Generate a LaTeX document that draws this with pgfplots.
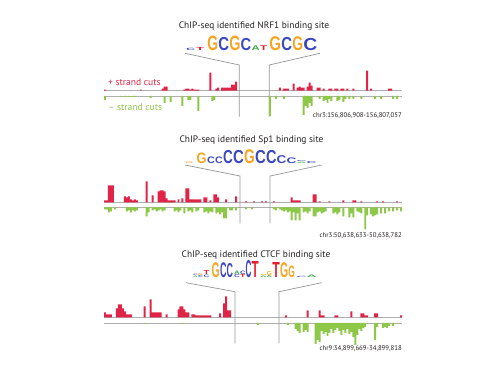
\documentclass[border=0pt]{standalone}
\usepackage{pgfplots}
\pgfplotsset{compat=1.18}
\usepackage{fontspec}
\usepackage{graphicx}
\setmainfont{PT Sans}
\newfontfamily\logofont{Liberation Sans}
\definecolor{cRed}{RGB}{224,36,72}
\definecolor{cGreen}{RGB}{142,200,72}
\definecolor{cLine}{RGB}{175,175,175}
\definecolor{cVert}{RGB}{150,150,150}
\definecolor{cText}{RGB}{35,31,32}
\definecolor{lG}{RGB}{246,166,35}
\definecolor{lC}{RGB}{60,72,190}
\definecolor{lT}{RGB}{226,32,44}
\definecolor{lA}{RGB}{60,170,70}
\newcommand{\LL}[6]{\node[anchor=south west,inner sep=0pt,outer sep=0pt] at (#1,#2) {\resizebox*{#3pt}{#4pt}{\logofont\bfseries\color{#5}#6}};}
\pgfplotsset{cuts/.style={scale only axis, width=298pt, height=25pt, xmin=-0.5, xmax=149.5,
  axis lines=none, ybar, bar width=1, ticks=none, clip=false}}
\begin{document}
\begin{tikzpicture}
\path[use as bounding box] (0pt,0pt) rectangle (499pt,-374pt);
\begin{scope}[x=1pt,y=-1pt]
% ---------- baselines and guide lines
\foreach \u/\l in {90.7/96, 202.3/207.5, 317.5/323}{
  \draw[cLine, line width=0.7pt] (104,\u) -- (402,\u);
  \draw[cLine, line width=0.7pt] (104,\l) -- (402,\l);
}
\draw[cVert, line width=0.7pt] (185,53.3) -- (239.3,65) -- (239.3,116.7);
\draw[cVert, line width=0.7pt] (320,53.3) -- (269.3,65) -- (269.3,116.7);
\draw[cVert, line width=0.7pt] (185,165) -- (240,176) -- (240,223.3);
\draw[cVert, line width=0.7pt] (321.7,165) -- (270,176) -- (270,223.3);
\draw[cVert, line width=0.7pt] (186,282.7) -- (235,291.7) -- (235,343.3);
\draw[cVert, line width=0.7pt] (321.7,282.7) -- (279,291.7) -- (279,343.3);
% ---------- titles
\node[cText, font=\fontsize{9.4}{10}\selectfont] at (254,26) {ChIP-seq identified NRF1 binding site};
\node[cText, font=\fontsize{9.4}{10}\selectfont] at (251.5,140) {ChIP-seq identified Sp1 binding site};
\node[cText, font=\fontsize{9.4}{10}\selectfont] at (256,255) {ChIP-seq identified CTCF binding site};
\node[cRed, anchor=west, inner sep=0pt, font=\fontsize{9.6}{10}\selectfont] at (108,82) {+ strand cuts};
\node[cGreen, anchor=west, inner sep=0pt, font=\fontsize{9.6}{10}\selectfont] at (108,107) {– strand cuts};
\node[cText, anchor=east, inner sep=0pt, font=\fontsize{6.8}{7}\selectfont] at (402,116) {chr3:156,806,908-156,807,057};
\node[cText, anchor=east, inner sep=0pt, font=\fontsize{6.8}{7}\selectfont] at (402,236) {chr3:50,638,633-50,638,782};
\node[cText, anchor=east, inner sep=0pt, font=\fontsize{6.8}{7}\selectfont] at (402,349) {chr9:34,899,669-34,899,818};
% ---------- logo NRF1
\LL{186}{50.7}{9}{2.3}{lC}{C}
\LL{196}{50.7}{8}{3}{lT}{T}
\LL{207.3}{50.7}{10.8}{14.7}{lG}{G}
\LL{218.3}{50.7}{10.8}{13.3}{lC}{C}
\LL{229.3}{50.7}{11.2}{14.7}{lG}{G}
\LL{240.7}{50.7}{10.6}{12.3}{lC}{C}
\LL{251.7}{50.7}{8.1}{4.7}{lA}{A}
\LL{260}{50.7}{7.1}{4.7}{lT}{T}
\LL{269.3}{50.7}{11.8}{14}{lG}{G}
\LL{281.3}{50.7}{10.8}{13.3}{lC}{C}
\LL{292.3}{50.7}{10.8}{14}{lG}{G}
\LL{303.3}{50.7}{14}{12.3}{lC}{C}
% ---------- logo Sp1
\LL{185}{163.7}{8}{1.5}{lG}{G}
\LL{196.7}{163.7}{10}{10.7}{lG}{G}
\LL{207}{163.7}{7.8}{6.7}{lC}{C}
\LL{215}{163.7}{7.6}{6.7}{lC}{C}
\LL{223}{163.7}{9.8}{13.3}{lC}{C}
\LL{233}{163.7}{10.8}{13.3}{lC}{C}
\LL{244}{163.7}{10.8}{14}{lG}{G}
\LL{255}{163.7}{10.8}{13.3}{lC}{C}
\LL{266}{163.7}{10.5}{13.3}{lC}{C}
\LL{276.7}{163.7}{9.8}{8}{lC}{C}
\LL{286.7}{163.7}{9.8}{5.7}{lC}{C}
\LL{296.7}{163.7}{9.8}{1.3}{lA}{A}
\LL{296.7}{161.9}{9.8}{1}{lC}{C}
\LL{306.7}{163.7}{10}{2}{lC}{C}
% ---------- logo CTCF
\LL{193}{278}{4.8}{1.5}{lA}{A}
\LL{193}{276}{4.8}{1.5}{lC}{C}
\LL{198}{278}{4.8}{2}{lC}{C}
\LL{198}{275.5}{4.8}{2}{lG}{G}
\LL{203.5}{278}{5.8}{2.5}{lC}{C}
\LL{203.5}{275}{5.8}{4}{lT}{T}
\LL{211.7}{278}{8.1}{15}{lG}{G}
\LL{220}{278}{6.5}{15}{lC}{C}
\LL{226.7}{278}{6.4}{14.3}{lC}{C}
\LL{234}{278}{5.8}{3}{lC}{C}
\LL{234}{274.5}{5.8}{3.5}{lA}{A}
\LL{240}{278}{5.4}{3}{lT}{T}
\LL{240}{274.5}{5.4}{3.5}{lC}{C}
\LL{245.7}{278}{5.8}{17.3}{lC}{C}
\LL{251.7}{278}{7.1}{16}{lT}{T}
\LL{260}{278}{6.5}{1.5}{lA}{A}
\LL{260}{276}{6.5}{1}{lG}{G}
\LL{266.7}{278}{5.4}{2}{lA}{A}
\LL{266.7}{275.5}{5.4}{4}{lG}{G}
\LL{272.3}{278}{7.5}{15}{lT}{T}
\LL{280}{278}{8.1}{15}{lG}{G}
\LL{288.3}{278}{6.5}{11.7}{lG}{G}
\LL{296.7}{278}{9.8}{1.2}{lC}{C}
\LL{306.7}{278}{10}{2.5}{lA}{A}
\end{scope}
% ================= Panel 1
\begin{axis}[cuts, at={(104pt,-90.7pt)}, anchor=south west, ymin=0, ymax=25]
\addplot[fill=cRed, draw=none] coordinates {
(0,1)(18,1)(29,2)(30,4)(31,4)(40,1)(41,2)(42,2)(43,1)(44,2)(45,1)(46,1)(47,1)(53,18)(56,2)(57,3)
(59,3)(60,3)(61,3)(62,3)(63,3)(64,6)(65,6)(66,9)
(88,3)(90,2)(91,2)(92,2)(95,7)(97,3)(98,4)(99,3)(100,3)(102,4)(103,8)(104,5)(107,3)(108,3)(110,2)
(113,2)(114,2)(116,2)(117,2)(119,2)(120,2)(122,2)(125,2)(132,20)(134,2)(143,2)(144,2)};
\end{axis}
\begin{axis}[cuts, at={(104pt,-96pt)}, anchor=north west, ymin=-25, ymax=0, y filter/.expression={-y}]
\addplot[fill=cGreen, draw=none] coordinates {
(0,4)(8,1)(10,1)(12,1)(14,1)(15,1)(23,2)(30,7)(33,6)(39,10)(42,4)(43,4)(47,15)(54,5)(55,4)
(83,20)(86,3)(90,3)(100,19)(101,10)(102,12)(103,7)(104,10)(108,3)(110,5)(111,4)(112,7)(113,3)(114,5)
(117,5)(118,4)(120,6)(121,3)(123,3)(125,3)(129,3)(136,3)(139,3)(145,3)(147,3)};
\end{axis}
% ================= Panel 2
\begin{axis}[cuts, at={(104pt,-202.3pt)}, anchor=south west, ymin=0, ymax=25]
\addplot[fill=cRed, draw=none] coordinates {
(0,2)(1,2)(2,17)(3,17)(4,17)(10,6)(11,5)(12,6)(13,3)(14,2)(15,3)(16,2)(21,21)(24,7)(27,11)(28,12)
(29,12)(30,11)(31,4)(32,2)(33,2)(34,2)(35,2)(37,3)(39,4)(41,14)(42,14)(43,3)(44,3)(45,3)(46,3)(47,3)
(48,3)(50,5)(51,5)(53,2)(55,8)(56,8)(57,5)(61,3)(66,6)(71,1)(75,1)(79,1)(81,1)(85,1)(94,5)(95,2)
(96,2)(97,2)(98,2)(105,8)(106,8)(108,1)(113,1)(120,2)(125,2)(126,2)(129,1)(137,1)(140,1)(147,1)};
\end{axis}
\begin{axis}[cuts, at={(104pt,-207.5pt)}, anchor=north west, ymin=-25, ymax=0, y filter/.expression={-y}]
\addplot[fill=cGreen, draw=none] coordinates {
(0,2)(1,2)(2,5)(3,4)(5,2)(11,4)(12,3)(13,5)(14,3)(15,4)(16,3)(21,9)(22,5)(24,3)(25,2)(26,4)(27,3)
(28,2)(29,4)(30,3)(35,4)(36,3)(37,5)(38,3)(40,6)(42,4)(43,3)(44,5)(46,4)(47,3)(50,5)(51,4)(52,6)
(53,4)(54,5)(56,6)(57,5)(58,7)(59,5)(60,11)(61,11)(63,3)(64,3)(66,3)(71,2)(74,2)(85,2)(86,3)(88,2)
(89,3)(90,4)(91,3)(92,5)(93,4)(94,13)(95,5)(96,13)(97,6)(98,13)(100,5)(101,4)(102,6)(103,4)(105,9)
(106,9)(107,5)(108,4)(109,6)(110,5)(111,4)(115,6)(116,5)(117,7)(118,5)(120,9)(123,10)(124,6)(125,10)
(127,4)(128,5)(129,6)(131,22)(132,8)(134,7)(135,9)(136,8)(137,7)(139,6)(141,6)(143,4)(145,4)(147,3)(149,4)};
\end{axis}
% ================= Panel 3
\begin{axis}[cuts, at={(104pt,-317.5pt)}, anchor=south west, ymin=0, ymax=25]
\addplot[fill=cRed, draw=none] coordinates {
(0,5)(1,3)(2,3)(3,3)(6,9)(7,13)(8,13)(9,9)(10,6)(11,3)(12,3)(13,3)(20,11)(23,18)(24,5)(25,5)
(26,5)(27,5)(28,5)(31,3)(37,8)(38,11)(39,11)(40,8)(41,5)(42,5)(44,3)(45,3)(46,2)(47,2)(48,2)
(49,2)(50,2)(51,2)(52,2)(53,2)(58,4)(60,14)(61,21)(62,7)(63,7)
(91,2)(102,7)(108,7)(109,2)(110,2)(116,2)(117,2)(124,6)(129,4)(130,4)(131,2)(132,2)(136,4)(137,4)(149,2)};
\end{axis}
\begin{axis}[cuts, at={(104pt,-323pt)}, anchor=north west, ymin=-25, ymax=0, y filter/.expression={-y}]
\addplot[fill=cGreen, draw=none] coordinates {
(20,1)(39,1)(77,2)(92,2)(96,6)(97,8)(98,10)(100,9)(101,7)(102,9)(106,21)(107,17)(108,19)(109,8)
(110,11)(111,9)(112,13)(113,10)(114,6)(115,10)(116,7)(117,5)(118,8)(119,12)(120,7)(121,10)(122,6)
(123,11)(124,9)(125,14)(126,22)(127,12)(128,6)(129,8)(130,5)(131,4)(136,17)(137,4)(140,5)(141,4)
(142,5)(143,3)(145,3)};
\end{axis}
\end{tikzpicture}
\end{document}
